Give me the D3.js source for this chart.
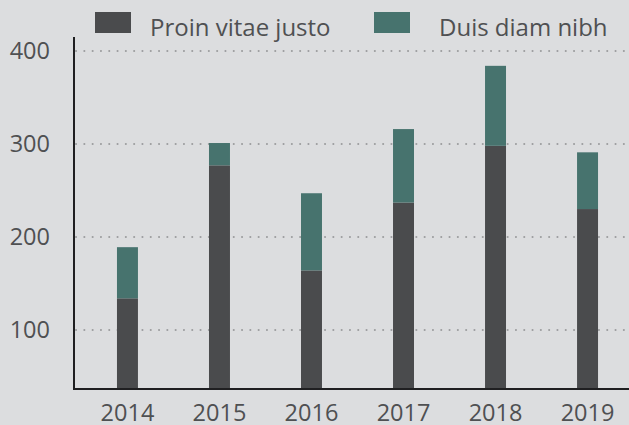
<!DOCTYPE html>
<html>
<head>
<meta charset="utf-8">
<script src="https://cdn.jsdelivr.net/npm/d3@7"></script>
<style>
  body { margin: 0; background: #dcdddf; }
  text { font-family: "Open Sans", sans-serif; fill: #4f5052; }
</style>
</head>
<body>
<div id="chart"></div>
<script>
const years = ["2014", "2015", "2016", "2017", "2018", "2019"];
const seriesNames = ["Proin vitae justo", "Duis diam nibh"];
const proin = [134, 277, 164, 237, 298, 230];
const duis = [55, 24, 83, 79, 86, 61];
const yTicks = [100, 200, 300, 400];

const width = 629;
const height = 425;
const colors = ["#4a4b4d", "#47736e"];

const svg = d3.select("#chart").append("svg")
    .attr("width", width)
    .attr("height", height);

svg.append("rect")
    .attr("width", width)
    .attr("height", height)
    .attr("fill", "#dcdddf");

const rows = years.map((y, i) => ({ year: y, proin: proin[i], duis: duis[i] }));
const stacked = d3.stack().keys(["proin", "duis"])(rows);

// x band scale, runs a bit past the right edge like the original
const x = d3.scaleBand()
    .domain(years)
    .range([74, 641])
    .paddingInner(0.772)
    .paddingOuter(0.467);

const y = d3.scaleLinear()
    .domain([36.5, 415])
    .range([389, 37]);

// dotted grid lines
svg.append("g")
    .selectAll("line")
    .data(yTicks)
    .enter().append("line")
    .attr("x1", 76)
    .attr("x2", width)
    .attr("y1", d => y(d))
    .attr("y2", d => y(d))
    .attr("stroke", "#9c9d9f")
    .attr("stroke-width", 2)
    .attr("stroke-linecap", "round")
    .attr("stroke-dasharray", "0.1,8.2");

// bars
svg.append("g")
    .selectAll("g")
    .data(stacked)
    .enter().append("g")
    .attr("fill", (d, i) => colors[i])
    .selectAll("rect")
    .data(d => d)
    .enter().append("rect")
    .attr("x", d => x(d.data.year))
    .attr("y", d => y(d[1]))
    .attr("width", x.bandwidth())
    .attr("height", d => y(d[0] === 0 ? y.domain()[0] : d[0]) - y(d[1]));

// y axis labels
svg.append("g")
    .selectAll("text")
    .data(yTicks)
    .enter().append("text")
    .attr("x", 50)
    .attr("y", d => y(d))
    .attr("dy", "0.36em")
    .attr("text-anchor", "end")
    .style("font-size", "23.5px")
    .text(d => d);

// x axis labels
svg.append("g")
    .selectAll("text")
    .data(years)
    .enter().append("text")
    .attr("x", d => x(d) + x.bandwidth() / 2)
    .attr("y", 421)
    .attr("text-anchor", "middle")
    .style("font-size", "23.5px")
    .text(d => d);

// axis lines
svg.append("line")
    .attr("x1", 74).attr("x2", 74)
    .attr("y1", 37).attr("y2", 390)
    .attr("stroke", "#1f1f21").attr("stroke-width", 2);
svg.append("line")
    .attr("x1", 73).attr("x2", width)
    .attr("y1", 389).attr("y2", 389)
    .attr("stroke", "#1f1f21").attr("stroke-width", 2);

// legend
const legendX = [95, 374];
const legendTextX = [55, 65];
const legend = svg.append("g")
    .selectAll("g")
    .data(seriesNames)
    .enter().append("g")
    .attr("transform", (d, i) => "translate(" + legendX[i] + ",12)");
legend.append("rect")
    .attr("width", 36)
    .attr("height", 21)
    .attr("fill", (d, i) => colors[i]);
legend.append("text")
    .attr("x", (d, i) => legendTextX[i])
    .attr("y", 24)
    .style("font-size", "24px")
    .text(d => d);
</script>
</body>
</html>
